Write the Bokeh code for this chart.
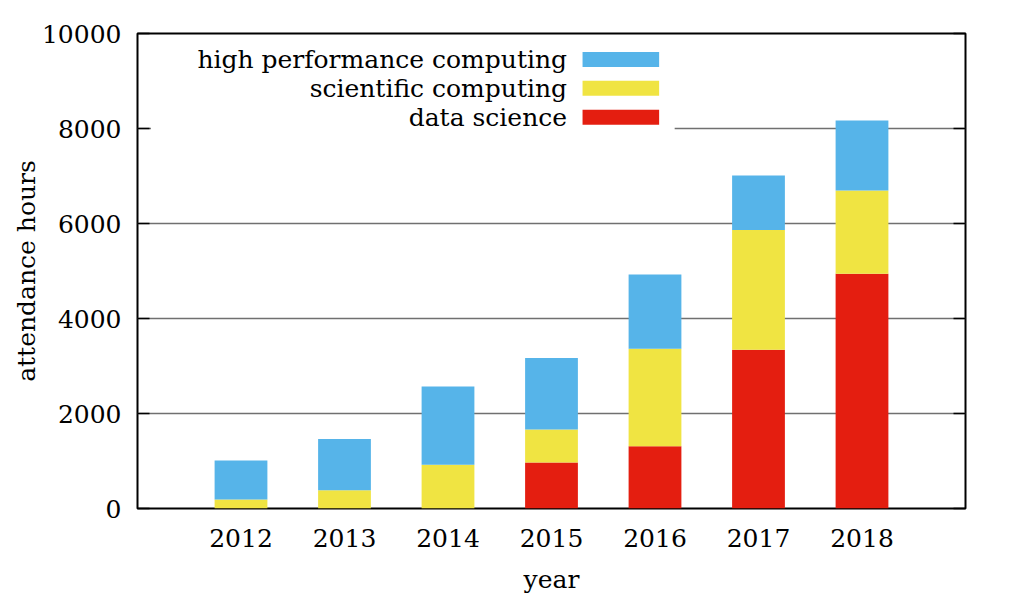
from bokeh.plotting import figure
from bokeh.models import ColumnDataSource, Range1d, LinearAxis, FixedTicker
from bokeh.core.properties import value
from bokeh.embed import file_html
from bokeh.resources import INLINE

years = [2012, 2013, 2014, 2015, 2016, 2017, 2018]
data_science = [0, 0, 0, 970, 1310, 3340, 4940]
scientific_computing = [190, 385, 920, 695, 2055, 2525, 1755]
hpc = [820, 1080, 1650, 1505, 1560, 1145, 1475]
series = ["data_science", "scientific_computing", "hpc"]
labels = ["high performance computing", "scientific computing", "data science"]
colors = ["#E41E10", "#F0E442", "#56B4E9"]
y_ticks = [0, 2000, 4000, 6000, 8000, 10000]

FONT = "DejaVu Serif"
FS = "25px"

source = ColumnDataSource(dict(years=years, data_science=data_science,
                               scientific_computing=scientific_computing, hpc=hpc))

p = figure(width=1013, height=600, output_backend="svg", toolbar_location=None,
           x_range=Range1d(2011, 2019), y_range=Range1d(0, 10000),
           min_border_left=137, min_border_right=48, min_border_top=33, min_border_bottom=92)

p.vbar_stack(series, x="years", width=0.51, color=colors, line_color=None, source=source)

# legend (drawn manually: labels right-aligned, swatch to their right)
p.quad(left=[2011.13], right=[2016.19], bottom=[7870], top=[9850],
       fill_color="white", line_color=None)
leg_y = [9455, 8845, 8235]
leg_colors = [colors[2], colors[1], colors[0]]
p.quad(left=[2015.30] * 3, right=[2016.04] * 3,
       bottom=[y - 158 for y in leg_y], top=[y + 158 for y in leg_y],
       fill_color=leg_colors, line_color=None)
p.text(x=[2015.15] * 3, y=leg_y, text=labels, text_align="right", text_baseline="middle",
       text_font=value(FONT), text_font_size=FS, text_color="black")

# axes
p.xaxis.ticker = FixedTicker(ticks=years)
p.yaxis.ticker = FixedTicker(ticks=y_ticks)
p.xaxis.axis_label = "year"
p.yaxis.axis_label = "attendance hours"
for ax in [p.xaxis[0], p.yaxis[0]]:
    ax.axis_line_color = None
    ax.major_label_text_font = FONT
    ax.major_label_text_font_size = FS
    ax.major_label_text_color = "black"
    ax.axis_label_text_font = FONT
    ax.axis_label_text_font_size = FS
    ax.axis_label_text_font_style = "normal"
    ax.axis_label_text_color = "black"
    ax.minor_tick_line_color = None
p.xaxis.major_tick_line_color = None
p.xaxis.major_label_standoff = 14
p.xaxis.axis_label_standoff = 15
p.yaxis.major_tick_in = 12
p.yaxis.major_tick_out = 0
p.yaxis.major_tick_line_color = "black"
p.yaxis.major_tick_line_width = 1.5
p.yaxis.major_label_standoff = 16
p.yaxis.axis_label_standoff = -2

right = LinearAxis(ticker=FixedTicker(ticks=y_ticks),
                   major_label_overrides={t: "" for t in y_ticks},
                   axis_line_color=None, major_tick_in=12, major_tick_out=0,
                   major_tick_line_color="black", major_tick_line_width=1.5,
                   minor_tick_line_color=None, major_label_standoff=0)
p.add_layout(right, "right")

p.xgrid.grid_line_color = None
p.ygrid.grid_line_color = "#707070"
p.ygrid.grid_line_width = 1.5

p.outline_line_color = "black"
p.outline_line_width = 2
p.outline_line_alpha = 1
p.background_fill_color = "white"
p.border_fill_color = "white"

open("out.html", "w").write(file_html(p, INLINE))
